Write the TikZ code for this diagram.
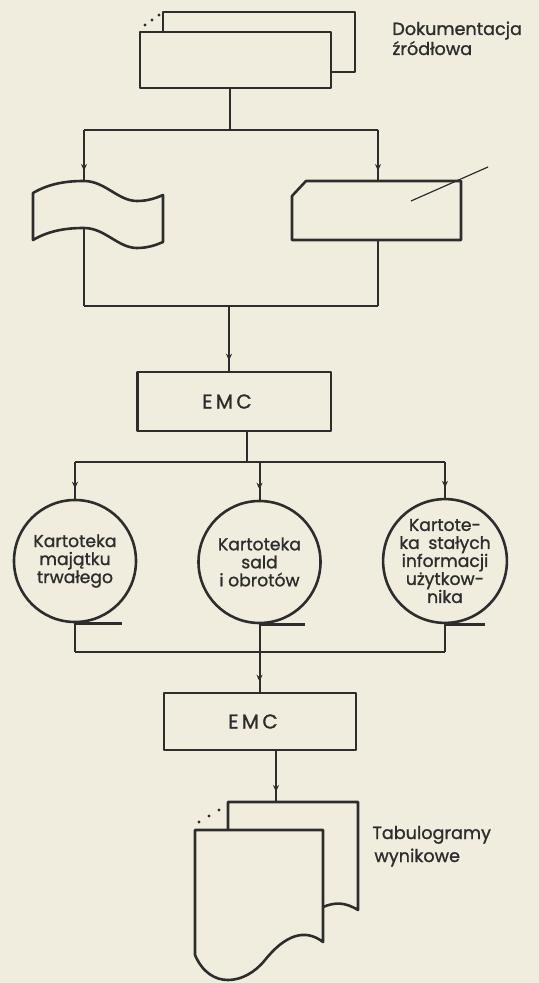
\documentclass[tikz,border=0pt]{standalone}
\usepackage{fontspec}
\setmainfont{Poppins}
\newfontfamily\letterfont{Poppins}[FakeBold=1.2]
\usetikzlibrary{decorations.markings,arrows.meta}

\definecolor{paper}{RGB}{240,237,223}
\definecolor{ink}{RGB}{45,45,45}

\tikzset{
  symbol/.style={draw=ink, line width=1.3pt, fill=paper, line join=round},
  flow/.style={draw=ink, line width=1pt},
  flowarrow/.style={flow, postaction={decorate},
    decoration={markings, mark=at position -5pt with {\arrow[ink]{Stealth[length=3.5pt,width=3pt]}}}},
  procbox/.style={symbol, rectangle, inner sep=0pt, text=ink,
    font=\letterfont\fontsize{10}{10}\selectfont},
  reel/.style={symbol, circle, minimum size=61pt, inner sep=0pt, align=center, text=ink,
    font=\letterfont\fontsize{8.6}{9}\selectfont},
  caption/.style={anchor=base west, inner sep=0pt, text=ink,
    font=\letterfont\fontsize{8.8}{10}\selectfont},
  inkdot/.style={fill=ink, draw=none},
}

\begin{document}
\begin{tikzpicture}[x=0.5pt,y=-0.5pt]
  \fill[paper] (0,0) rectangle (539,983);
  \useasboundingbox (0,0) rectangle (539,983);

  % ---------- connectors of the input stage ----------
  \coordinate (docOut)   at (230,88);
  \coordinate (busTopM)  at (230,130);
  \coordinate (busTopL)  at (84,130);
  \coordinate (busTopR)  at (378,130);
  \coordinate (tapeIn)   at (84,181);
  \coordinate (tapeOut)  at (84,228);
  \coordinate (cardIn)   at (378,181);
  \coordinate (cardOut)  at (378,240);
  \coordinate (busMidL)  at (84,306);
  \coordinate (busMidR)  at (378,306);
  \coordinate (busMidM)  at (229,306);

  \draw[flow] (docOut) -- (busTopM);
  \draw[flow] (busTopL) -- (busTopR);
  \draw[flowarrow] (busTopL) -- (tapeIn);
  \draw[flowarrow] (busTopR) -- (cardIn);
  \draw[flow] (tapeOut) -- (busMidL);
  \draw[flow] (cardOut) -- (busMidR);
  \draw[flow] (busMidL) -- (busMidR);

  % ---------- source documents ----------
  \draw[symbol] (163,12) rectangle (355,72);
  \draw[symbol] (140,32) rectangle (331,88);
  \fill[inkdot] (145,25) circle (1.6) (152,20) circle (1.6) (159,15) circle (1.6);
  \node[caption] (srcA) at (392,35) {Dokumentacja};
  \node[caption] (srcB) at (392,55) {źródłowa};

  % ---------- punched tape ----------
  \draw[symbol] (33,193) .. controls (50,183) and (68,181) .. (84,181)
     .. controls (105,181) and (118,201) .. (137,201)
     .. controls (148,201) and (156,198) .. (163,195)
     -- (163,242)
     .. controls (156,245) and (148,248) .. (137,248)
     .. controls (118,248) and (105,228) .. (84,228)
     .. controls (68,228) and (50,230) .. (33,240) -- cycle;

  % ---------- punched card ----------
  \draw[symbol] (292,196) -- (306,181) -- (461,181) -- (461,240) -- (292,240) -- cycle;
  \draw[ink, line width=0.6pt] (411,201) -- (488,167);

  % ---------- first run ----------
  \node[procbox, minimum width=96.75pt, minimum height=29.5pt] (emc1) at (234.25,401.5) {};
  \node[inner sep=0pt, text=ink, font=\letterfont\fontsize{10}{10}\selectfont] (emc1t) at (227,401.5) {E\,M\,C};
  \draw[flowarrow] (busMidM) -- (busMidM |- emc1.north);

  \node[reel] (c1) at (75,561) {Kartoteka\\majątku\\trwałego};
  \node[reel] (c2) at (259.5,562) {Kartoteka\\sald\\i obrotów};
  \node[reel] (c3) at (445,561) {Kartote-\\ka\enspace stałych\\informacji\\użytkow-\\nika};

  \coordinate (emcOut) at (246.5,431);
  \coordinate (fanM)   at (246.5,462);
  \coordinate (fanL)   at (75,462);
  \coordinate (fanC)   at (259.5,462);
  \coordinate (fanR)   at (445,462);
  \draw[flow] (emcOut) -- (fanM);
  \draw[flow] (fanL) -- (fanR);
  \draw[flowarrow] (fanL) -- (c1.north);
  \draw[flowarrow] (fanC) -- (c2.north);
  \draw[flowarrow] (fanR) -- (c3.north);

  % tape reel leaders
  \draw[symbol] (c1.south) -- ++(47,0);
  \draw[symbol] (c2.south) -- ++(45,0);
  \draw[symbol] (c3.south) -- ++(40,0);

  % ---------- second run ----------
  \node[procbox, minimum width=96pt, minimum height=28.5pt] (emc2) at (260,721.5) {};
  \node[inner sep=0pt, text=ink, font=\letterfont\fontsize{10}{10}\selectfont] (emc2t) at (253,721.5) {E\,M\,C};
  \coordinate (joinL) at (75,652);
  \coordinate (joinR) at (445,652);
  \draw[flow] (c1.south) -- (joinL);
  \draw[flow] (c3.south) -- (joinR);
  \draw[flow] (joinL) -- (joinR);
  \draw[flowarrow] (c2.south) -- (c2.south |- emc2.north);

  % ---------- result listings ----------
  \coordinate (listIn) at (276,802);
  \draw[flowarrow] (emc2.south -| listIn) -- (listIn);
  \draw[symbol] (228,802) -- (358,802) -- (358,910)
     .. controls (345,902) and (335,902) .. (323,907) -- (228,907) -- cycle;
  \draw[symbol] (195,830) -- (323,830) -- (323,942)
     .. controls (305,928) and (285,935) .. (265,960)
     .. controls (245,985) and (210,990) .. (195,955) -- cycle;
  \fill[inkdot] (199,822) circle (1.6) (209,816) circle (1.6) (219,810) circle (1.6);
  \node[caption] (outA) at (372,839) {Tabulogramy};
  \node[caption] (outB) at (374,862) {wynikowe};
\end{tikzpicture}
\end{document}
